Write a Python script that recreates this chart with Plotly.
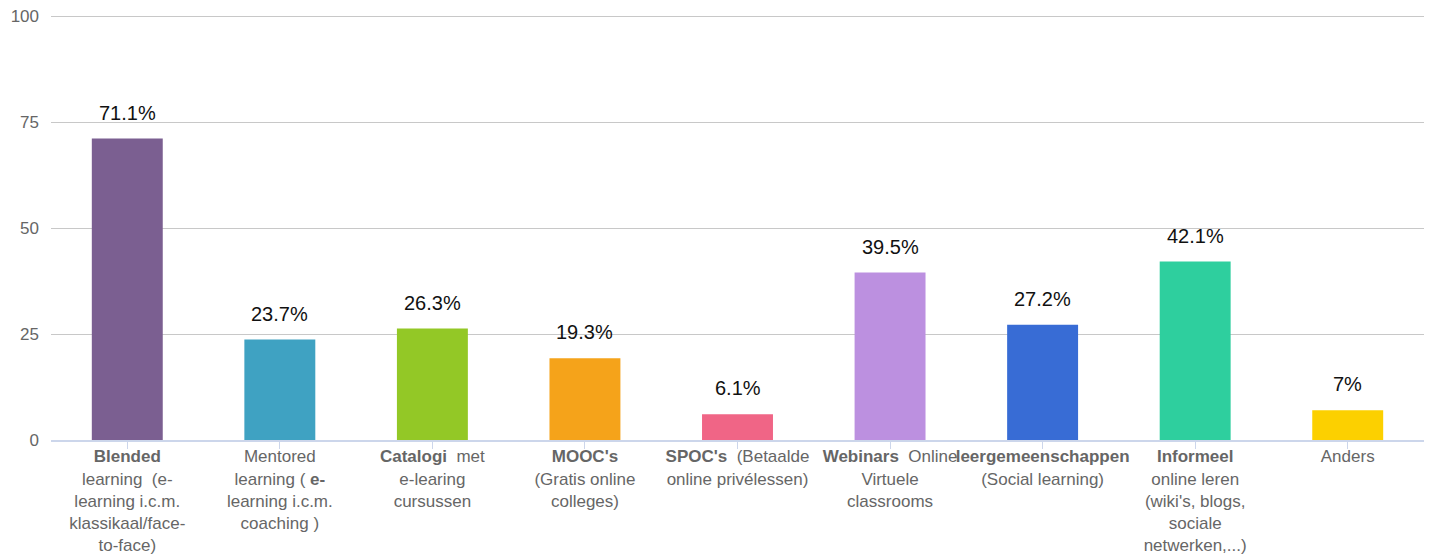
import plotly.graph_objects as go

categories = [
    "<b>Blended</b><br>learning  (e-<br>learning i.c.m.<br>klassikaal/face-<br>to-face)",
    "Mentored<br>learning ( <b>e-</b><br>learning i.c.m.<br>coaching )",
    "<b>Catalogi</b>  met<br>e-learing<br>cursussen",
    "<b>MOOC's</b><br>(Gratis online<br>colleges)",
    "<b>SPOC's</b>  (Betaalde<br>online privélessen)",
    "<b>Webinars</b>  Online<br>Virtuele<br>classrooms",
    "<b>leergemeenschappen</b><br>(Social learning)",
    "<b>Informeel</b><br>online leren<br>(wiki's, blogs,<br>sociale<br>netwerken,...)",
    "Anders",
]
values = [71.1, 23.7, 26.3, 19.3, 6.1, 39.5, 27.2, 42.1, 7]
labels = ["71.1%", "23.7%", "26.3%", "19.3%", "6.1%", "39.5%", "27.2%", "42.1%", "7%"]
colors = ["#7b5f91", "#3fa2c2", "#93c826", "#f5a31a", "#f06586",
          "#bc90e0", "#386cd5", "#2ecf9e", "#fcd000"]
y_ticks = [0, 25, 50, 75, 100]

idx = list(range(len(categories)))

fig = go.Figure()
fig.add_trace(go.Bar(
    x=idx, y=values, marker=dict(color=colors, line=dict(width=0)),
    width=0.465, hoverinfo="skip",
))

for i, v, t in zip(idx, values, labels):
    fig.add_annotation(x=i, y=v, text=t, showarrow=False, yanchor="bottom",
                       yshift=13, font=dict(size=20, color="#111111"))

fig.update_layout(
    width=1433, height=556,
    margin=dict(l=51, r=9, t=14, b=116),
    plot_bgcolor="white", paper_bgcolor="white",
    font=dict(family="Liberation Sans, Arial, sans-serif", size=17, color="#666666"),
    showlegend=False,
    xaxis=dict(
        tickmode="array", tickvals=idx, ticktext=categories,
        range=[-0.5, len(categories) - 0.5], automargin=False,
        showline=True, linecolor="#ccd6eb", linewidth=2,
        ticks="outside", tickson="boundaries", ticklen=7, tickcolor="#ccd6eb", tickwidth=1,
        showgrid=False, tickangle=0, tickfont=dict(size=17, color="#666666"),
        ticklabelstandoff=-7,
    ),
    yaxis=dict(
        range=[0, 100.5], tickvals=y_ticks, showgrid=True, gridcolor="#c8c8c8", gridwidth=1,
        zeroline=False, ticks="", automargin=False,
        tickfont=dict(size=17, color="#666666"), ticklabelstandoff=11,
    ),
)

fig.write_html("out.html", config={"displayModeBar": False},
               post_script="document.body.style.margin='0';document.body.style.overflow='hidden';")
